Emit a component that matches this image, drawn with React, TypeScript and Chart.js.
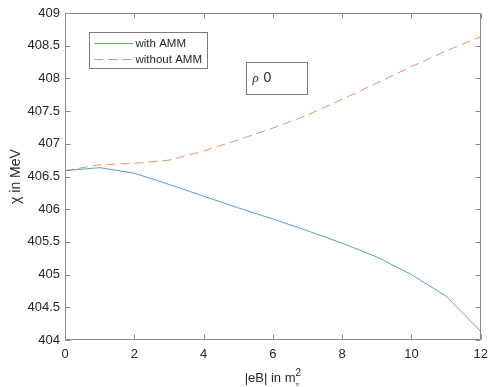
import React, { useEffect, useRef } from "react";
import { Chart, registerables } from "chart.js";

Chart.register(...registerables);

const eB = [0, 1, 2, 3, 4, 5, 6, 7, 8, 9, 10, 11, 12];
const withAMM = [406.59, 406.635, 406.55, 406.38, 406.2, 406.02, 405.85, 405.67, 405.48, 405.27, 405.0, 404.67, 404.13];
const withoutAMM = [406.59, 406.68, 406.7, 406.75, 406.89, 407.06, 407.24, 407.44, 407.68, 407.93, 408.18, 408.42, 408.64];
const seriesNames = ["with AMM", "without AMM"];
const xTitle = "|eB| in m";
const yTitle = "\u03c7 in MeV";
const annotationLabel = ["\u03c1", "0"];

const FONT = "'Liberation Sans', Arial, sans-serif";
const BLUE = "#5a9bd8";
const ORANGE = "#e8906e";
const AXIS = "#8a8a8a";
const TEXT = "#262626";

const framePlugin = {
  id: "matlabFrame",
  afterDraw(chart: any) {
    const ctx = chart.ctx as CanvasRenderingContext2D;
    const { left, right, top, bottom } = chart.chartArea;
    const xs = chart.scales.x;
    const ys = chart.scales.y;
    const L = Math.round(left) + 0.5;
    const R = Math.round(right) - 0.5;
    const T = Math.round(top) + 0.5;
    const B = Math.round(bottom) - 0.5;
    ctx.save();
    ctx.strokeStyle = AXIS;
    ctx.lineWidth = 1;
    ctx.beginPath();
    ctx.rect(L, T, R - L, B - T);
    const tl = 5;
    xs.ticks.forEach((t: any) => {
      const px = Math.round(xs.getPixelForValue(t.value)) + 0.5;
      ctx.moveTo(px, B);
      ctx.lineTo(px, B - tl);
      ctx.moveTo(px, T);
      ctx.lineTo(px, T + tl);
    });
    ys.ticks.forEach((t: any) => {
      const py = Math.round(ys.getPixelForValue(t.value)) + 0.5;
      ctx.moveTo(L, py);
      ctx.lineTo(L + tl, py);
      ctx.moveTo(R, py);
      ctx.lineTo(R - tl, py);
    });
    ctx.stroke();

    // Legend box
    const lx = Math.round(left) + 24.5;
    const ly = Math.round(top) + 19.5;
    ctx.fillStyle = "#ffffff";
    ctx.fillRect(lx, ly, 118, 36);
    ctx.strokeStyle = "#7a7a7a";
    ctx.strokeRect(lx, ly, 118, 36);
    ctx.lineWidth = 1;
    ctx.strokeStyle = BLUE;
    ctx.beginPath();
    ctx.moveTo(lx + 5, ly + 11);
    ctx.lineTo(lx + 44, ly + 11);
    ctx.stroke();
    ctx.strokeStyle = ORANGE;
    ctx.setLineDash([9, 5]);
    ctx.beginPath();
    ctx.moveTo(lx + 5, ly + 27);
    ctx.lineTo(lx + 44, ly + 27);
    ctx.stroke();
    ctx.setLineDash([]);
    ctx.fillStyle = TEXT;
    ctx.font = `11.5px ${FONT}`;
    ctx.textAlign = "left";
    ctx.textBaseline = "middle";
    ctx.fillText(seriesNames[0], lx + 46, ly + 11);
    ctx.fillText(seriesNames[1], lx + 46, ly + 27);

    // Annotation box
    const ax = 246.5;
    const ay = 62.5;
    ctx.fillStyle = "#ffffff";
    ctx.fillRect(ax, ay, 61, 32);
    ctx.strokeStyle = "#7a7a7a";
    ctx.strokeRect(ax, ay, 61, 32);
    ctx.fillStyle = TEXT;
    ctx.font = `italic 13px 'Liberation Serif', 'Times New Roman', serif`;
    ctx.textBaseline = "alphabetic";
    ctx.fillText(annotationLabel[0], ax + 6, ay + 19);
    ctx.font = `14px ${FONT}`;
    ctx.fillText(annotationLabel[1], ax + 17, ay + 19);

    // Axis titles
    ctx.fillStyle = TEXT;
    ctx.font = `13px ${FONT}`;
    ctx.textAlign = "left";
    ctx.textBaseline = "alphabetic";
    const cx = (left + right) / 2;
    const wMain = ctx.measureText(xTitle).width;
    ctx.font = `10px ${FONT}`;
    const wSup = ctx.measureText("2").width;
    const startX = cx - (wMain + wSup) / 2;
    ctx.font = `13px ${FONT}`;
    ctx.fillText(xTitle, startX, 382);
    ctx.font = `10px ${FONT}`;
    ctx.fillText("2", startX + wMain, 376);
    ctx.font = `italic 7px 'Liberation Serif', serif`;
    ctx.fillText("\u03c0", startX + wMain, 386);

    ctx.font = `14px ${FONT}`;
    ctx.textAlign = "center";
    ctx.translate(20, (top + bottom) / 2);
    ctx.rotate(-Math.PI / 2);
    ctx.fillText(yTitle, 0, 0);
    ctx.restore();
  },
};

export default function App() {
  const ref = useRef<HTMLCanvasElement>(null);
  useEffect(() => {
    if (!ref.current) return;
    const chart = new Chart(ref.current, {
      type: "line",
      data: {
        datasets: [
          {
            label: seriesNames[0],
            data: eB.map((x, i) => ({ x, y: withAMM[i] })),
            borderColor: BLUE,
            borderWidth: 1,
            pointRadius: 0,
            tension: 0,
            fill: false,
          },
          {
            label: seriesNames[1],
            data: eB.map((x, i) => ({ x, y: withoutAMM[i] })),
            borderColor: ORANGE,
            borderWidth: 1,
            borderDash: [9, 5],
            pointRadius: 0,
            tension: 0,
            fill: false,
          },
        ],
      },
      options: {
        responsive: false,
        animation: false,
        layout: { padding: { top: 13, right: 8, left: 0, bottom: 0 } },
        plugins: { legend: { display: false }, tooltip: { enabled: false }, title: { display: false } },
        scales: {
          x: {
            type: "linear",
            min: 0,
            max: 12,
            grid: { display: false, drawTicks: false },
            border: { display: false },
            ticks: { stepSize: 2, padding: 7, color: TEXT, font: { family: FONT, size: 13 }, maxRotation: 0, callback: (v: any) => String(v) },
            afterFit: (s: any) => { s.height = 47; },
          },
          y: {
            type: "linear",
            min: 404,
            max: 409,
            grid: { display: false, drawTicks: false },
            border: { display: false },
            ticks: { stepSize: 0.5, padding: 5, color: TEXT, font: { family: FONT, size: 13 }, callback: (v: any) => String(v) },
            afterFit: (s: any) => { s.width = 65; },
          },
        },
      },
      plugins: [framePlugin],
    });
    return () => chart.destroy();
  }, []);
  return (
    <div style={{ position: "absolute", left: 0, top: 0, width: 495, height: 387, background: "#fff" }}>
      <canvas ref={ref} width={495} height={387} style={{ display: "block" }} />
    </div>
  );
}
